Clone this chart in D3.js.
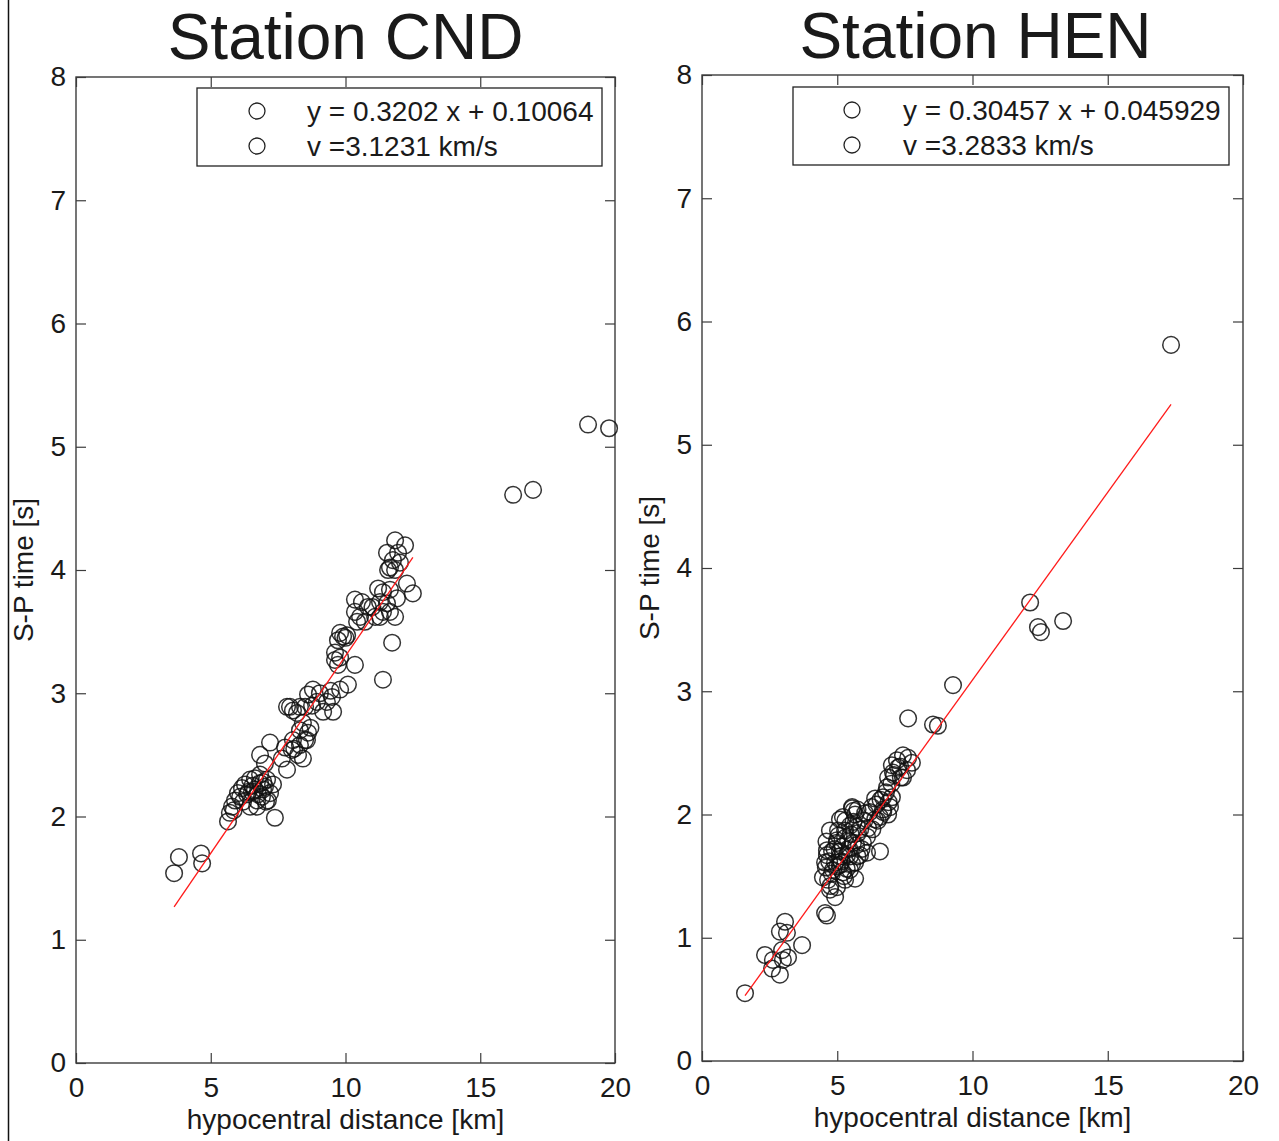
<!DOCTYPE html>
<html>
<head>
<meta charset="utf-8">
<script src="https://cdn.jsdelivr.net/npm/d3@7"></script>
<style>
  html, body { margin: 0; padding: 0; background: #fff; }
  svg text { font-family: "Liberation Sans", Arial, sans-serif; fill: #1a1a1a; }
</style>
</head>
<body>
<svg id="fig" width="1279" height="1141"></svg>
<script>
// ---- data: S-P time vs hypocentral distance ----
const xTicks = [0, 5, 10, 15, 20];
const yTicks = [0, 1, 2, 3, 4, 5, 6, 7, 8];

const cndDist = [
  3.64, 3.82, 4.64, 4.68, 7.38, 5.64, 5.71, 5.79, 5.90, 6.01, 6.16, 6.27, 6.46, 6.64, 6.83,
  6.94, 6.72, 6.46, 7.20, 7.09, 6.83, 7.01, 7.31, 7.12, 6.72, 6.83, 7.20, 7.01, 7.83, 7.64,
  7.76, 8.01, 8.24, 8.42, 8.31, 8.57, 8.05, 7.94, 8.20, 8.42, 8.61, 8.31, 11.84, 12.21, 11.54,
  11.76, 11.95, 11.65, 11.84, 11.58, 12.02, 12.50, 12.28, 11.21, 11.39, 11.65, 11.91, 11.54, 11.28, 11.39,
  11.65, 11.84, 11.28, 10.35, 10.61, 10.83, 10.35, 10.54, 10.72, 10.43, 11.73, 11.39, 9.80, 10.06, 9.72,
  9.91, 9.61, 9.61, 9.72, 10.35, 9.80, 10.09, 9.80, 9.50, 9.31, 8.79, 9.05, 8.61, 8.50, 8.76,
  9.17, 9.54, 7.83, 8.05, 8.31, 8.94, 6.35, 6.53, 6.90, 6.64, 6.09,
  6.20, 6.55, 6.75, 6.95, 7.05, 5.85, 6.40, 8.70, 8.50, 8.10, 9.45, 10.00, 11.00, 11.10,
  16.22, 16.96, 19.00, 19.78
];
const cndTime = [
  1.54, 1.67, 1.70, 1.62, 1.99, 1.96, 2.03, 2.08, 2.13, 2.19, 2.23, 2.26, 2.30, 2.31, 2.27,
  2.22, 2.13, 2.08, 2.19, 2.30, 2.34, 2.24, 2.26, 2.13, 2.08, 2.50, 2.60, 2.43, 2.38, 2.47,
  2.56, 2.54, 2.50, 2.47, 2.58, 2.62, 2.62, 2.89, 2.84, 2.76, 2.68, 2.70, 4.24, 4.20, 4.14,
  4.08, 4.14, 4.02, 4.00, 4.00, 4.06, 3.81, 3.89, 3.85, 3.82, 3.84, 3.77, 3.73, 3.74, 3.66,
  3.66, 3.62, 3.62, 3.76, 3.74, 3.70, 3.66, 3.62, 3.58, 3.58, 3.41, 3.11, 3.49, 3.47, 3.43,
  3.46, 3.33, 3.27, 3.23, 3.23, 3.29, 3.07, 3.03, 2.97, 2.93, 3.03, 3.00, 2.99, 2.89, 2.90,
  2.85, 2.85, 2.89, 2.86, 2.89, 2.93, 2.18, 2.20, 2.16, 2.22, 2.16,
  2.12, 2.25, 2.18, 2.28, 2.12, 2.05, 2.20, 2.72, 2.62, 2.55, 3.02, 3.45, 3.70, 3.62,
  4.61, 4.65, 5.18, 5.15
];

const henDist = [
  1.59, 2.33, 2.62, 2.59, 2.88, 2.99, 3.18, 2.96, 3.70, 3.07, 3.14, 2.88, 4.62, 4.55,
  5.55, 5.10, 4.73, 4.62, 4.55, 4.47, 4.73, 4.99, 5.21, 5.47, 5.66, 5.47, 5.10, 4.84, 5.40,
  5.73, 5.29, 4.99, 4.66, 4.92, 7.43, 7.62, 7.76, 7.21, 7.32, 7.02, 7.06, 7.58, 7.43, 6.88,
  6.84, 6.69, 7.02, 6.95, 6.69, 6.40, 6.28, 6.58, 6.88, 6.40, 6.03, 6.14, 5.55, 5.66, 5.21,
  5.47, 5.03, 4.99, 5.29, 5.77, 5.58, 5.95, 6.10, 6.58, 4.81, 5.10, 5.36, 4.62, 4.92, 5.66,
  5.84, 4.58, 5.29, 5.10,
  4.70, 4.80, 4.90, 5.00, 5.05, 5.15, 5.20, 5.30, 5.35, 5.45, 5.50, 5.55, 5.60, 5.70, 5.75,
  5.85, 5.90, 6.00, 6.10, 6.20, 6.30, 6.45, 6.50, 6.60, 6.70, 6.80, 6.90, 7.00, 7.10, 7.25,
  7.35, 4.75, 4.60, 5.25, 5.75, 5.60,
  7.62, 8.54, 8.72, 9.28, 12.13, 12.42, 12.53, 13.35, 17.34
];
const henTime = [
  0.55, 0.86, 0.82, 0.75, 0.70, 0.82, 0.84, 0.90, 0.94, 1.13, 1.04, 1.05, 1.18, 1.20,
  2.05, 1.96, 1.87, 1.71, 1.61, 1.49, 1.39, 1.41, 1.53, 1.55, 1.48, 1.66, 1.66, 1.55, 1.79,
  1.90, 1.87, 1.77, 1.47, 1.33, 2.48, 2.46, 2.42, 2.44, 2.39, 2.40, 2.34, 2.36, 2.30, 2.30,
  2.22, 2.14, 2.14, 2.06, 2.04, 2.13, 2.06, 1.98, 2.00, 1.96, 2.01, 1.89, 2.06, 2.00, 1.98,
  1.91, 1.87, 1.79, 1.81, 1.85, 1.77, 1.77, 1.69, 1.70, 1.70, 1.70, 1.67, 1.67, 1.61, 1.61,
  1.67, 1.57, 1.47, 1.59,
  1.62, 1.52, 1.72, 1.58, 1.83, 1.62, 1.74, 1.95, 1.56, 1.72, 1.84, 1.60, 1.94, 1.75, 1.66,
  1.88, 1.72, 1.95, 1.82, 2.02, 1.88, 2.08, 1.95, 2.12, 2.02, 2.18, 2.10, 2.25, 2.32, 2.38,
  2.30, 1.42, 1.78, 1.50, 2.04, 2.03,
  2.78, 2.73, 2.72, 3.05, 3.72, 3.52, 3.48, 3.57, 5.81
];

// linear fits (slope, intercept) and the distance span each fit covers
const cndFit = [0.3202, 0.10064];
const henFit = [0.30457, 0.045929];
const cndFitSpan = [3.64, 12.5];
const henFitSpan = [1.59, 17.34];

const cndLegend = ["y = 0.3202 x + 0.10064", "v =3.1231 km/s"];
const henLegend = ["y = 0.30457 x + 0.045929", "v =3.2833 km/s"];

// ---- drawing ----
const svg = d3.select("#fig");
svg.append("rect").attr("width", 1279).attr("height", 1141).attr("fill", "#fff");

// page frame line on the left edge
svg.append("line")
  .attr("x1", 8.5).attr("x2", 8.5).attr("y1", 0).attr("y2", 1141)
  .attr("stroke", "#111").attr("stroke-width", 1.5);

function panel(cfg) {
  const { left, right, top, bottom } = cfg.box;
  const x = d3.scaleLinear().domain([0, 20]).range([left, right]);
  const y = d3.scaleLinear().domain([0, 8]).range([bottom, top]);
  const g = svg.append("g");

  // title
  g.append("text")
    .attr("x", (left + right) / 2 + cfg.titleDx).attr("y", cfg.titleY)
    .attr("text-anchor", "middle").style("font-size", "64px")
    .text(cfg.title);

  const axisColor = "#3c3c3c";
  const styleAxis = sel => {
    sel.select(".domain").remove();
    sel.selectAll(".tick line").attr("stroke", axisColor).attr("stroke-width", 1.2);
    sel.selectAll(".tick text").style("font-size", "28px").attr("fill", "#1a1a1a")
      .style("font-family", '"Liberation Sans", Arial, sans-serif');
  };

  g.append("g").attr("transform", `translate(0,${bottom})`)
    .call(d3.axisBottom(x).tickValues(xTicks).tickSize(-10).tickPadding(14).tickFormat(d3.format("d")))
    .call(styleAxis);
  g.append("g").attr("transform", `translate(0,${top})`)
    .call(d3.axisTop(x).tickValues(xTicks).tickSize(-10).tickFormat(""))
    .call(styleAxis);
  g.append("g").attr("transform", `translate(${left},0)`)
    .call(d3.axisLeft(y).tickValues(yTicks).tickSize(-10).tickPadding(10).tickFormat(d3.format("d")))
    .call(styleAxis);
  g.append("g").attr("transform", `translate(${right},0)`)
    .call(d3.axisRight(y).tickValues(yTicks).tickSize(-10).tickFormat(""))
    .call(styleAxis);

  // plot box
  g.append("rect")
    .attr("x", left).attr("y", top).attr("width", right - left).attr("height", bottom - top)
    .attr("fill", "none").attr("stroke", axisColor).attr("stroke-width", 1.4);

  // axis labels
  g.append("text")
    .attr("x", (left + right) / 2).attr("y", bottom + 66)
    .attr("text-anchor", "middle").style("font-size", "28px")
    .text("hypocentral distance [km]");
  g.append("text")
    .attr("transform", `translate(${left - 43},${(top + bottom) / 2}) rotate(-90)`)
    .attr("text-anchor", "middle").style("font-size", "28px")
    .text("S-P time [s]");

  // scatter points
  const pts = d3.zip(cfg.dist, cfg.time);
  g.append("g").selectAll("circle").data(pts).join("circle")
    .attr("cx", d => x(d[0])).attr("cy", d => y(d[1])).attr("r", 8.3)
    .attr("fill", "none").attr("stroke", "#111").attr("stroke-opacity", 0.85)
    .attr("stroke-width", 1.5);

  // regression line
  const [m, b] = cfg.fit;
  g.append("line")
    .attr("x1", x(cfg.span[0])).attr("y1", y(m * cfg.span[0] + b))
    .attr("x2", x(cfg.span[1])).attr("y2", y(m * cfg.span[1] + b))
    .attr("stroke", "#ff1a1a").attr("stroke-width", 1.3);

  // legend
  const L = cfg.legend;
  const lg = g.append("g");
  lg.append("rect")
    .attr("x", L.x).attr("y", L.y).attr("width", L.w).attr("height", L.h)
    .attr("fill", "#fff").attr("stroke", "#222").attr("stroke-width", 1.3);
  cfg.legendText.forEach((t, i) => {
    const cy = L.y + 23 + i * 35;
    lg.append("circle").attr("cx", L.x + L.markDx).attr("cy", cy).attr("r", 8)
      .attr("fill", "none").attr("stroke", "#222").attr("stroke-width", 1.3);
    lg.append("text").attr("x", L.x + L.textDx).attr("y", cy + 10)
      .style("font-size", "28px").text(t);
  });
}

panel({
  box: { left: 76, right: 615, top: 77, bottom: 1063 },
  title: "Station CND", titleY: 59, titleDx: 0,
  dist: cndDist, time: cndTime, fit: cndFit, span: cndFitSpan,
  legend: { x: 197, y: 88, w: 405, h: 78, markDx: 60, textDx: 110 },
  legendText: cndLegend
});

panel({
  box: { left: 702, right: 1243, top: 75, bottom: 1061 },
  title: "Station HEN", titleY: 58, titleDx: 3,
  dist: henDist, time: henTime, fit: henFit, span: henFitSpan,
  legend: { x: 793, y: 87, w: 436, h: 78, markDx: 59, textDx: 110 },
  legendText: henLegend
});
</script>
</body>
</html>
